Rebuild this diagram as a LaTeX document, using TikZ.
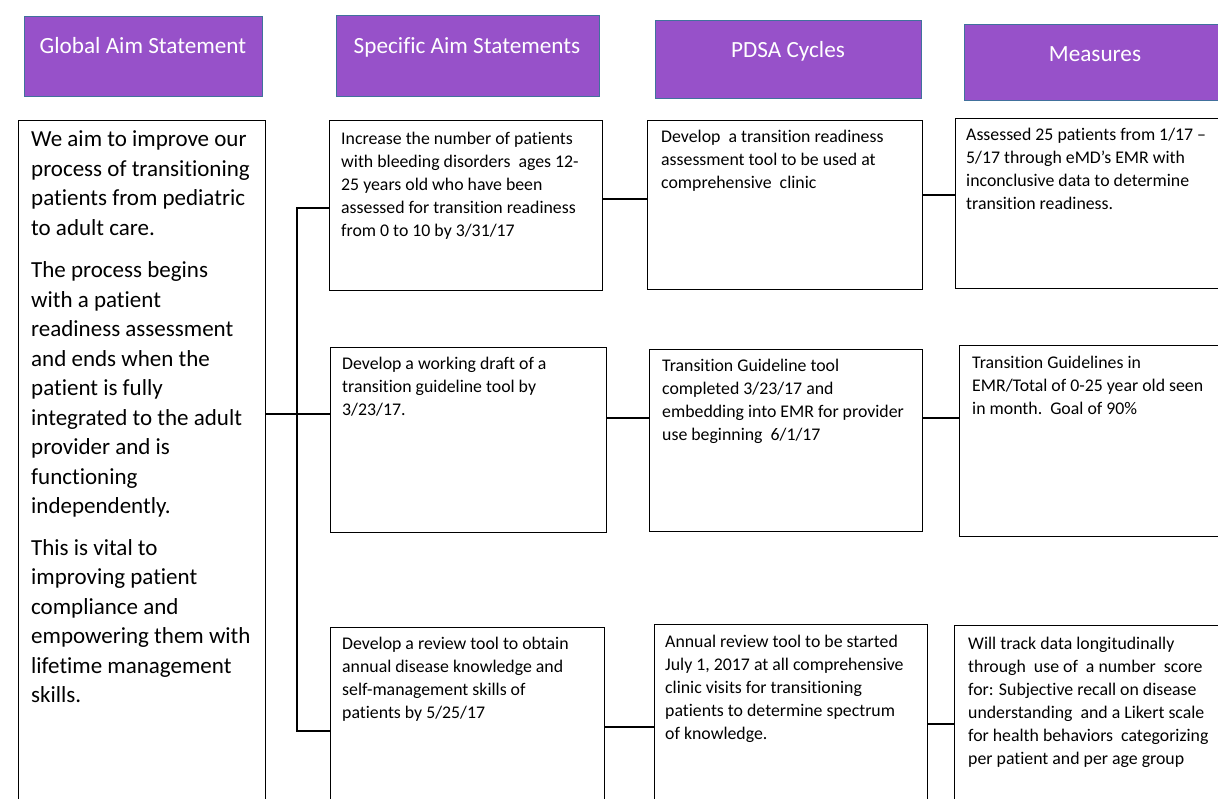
\documentclass[tikz,border=0pt]{standalone}
\usepackage{fontspec}
\setmainfont{Carlito}[Ligatures=CommonOff]
\definecolor{hdr}{RGB}{151,81,201}
\definecolor{hdrline}{RGB}{65,113,156}
\begin{document}
\begin{tikzpicture}[x=1pt,y=-1pt,
  hbox/.style={draw=hdrline, line width=1pt, fill=hdr, anchor=north west, inner sep=0pt},
  htext/.style={text=white, font=\fontsize{23.2}{28}\selectfont, anchor=base, inner sep=0pt},
  box/.style={draw=black, line width=1.4pt, anchor=north west, inner sep=0pt},
  txt/.style={anchor=north west, inner sep=0pt, align=left, font=\fontsize{17.8}{23}\selectfont},
  big/.style={anchor=north west, inner sep=0pt, align=left, font=\fontsize{23}{29.5}\selectfont},
  conn/.style={line width=2.8pt}]
\clip (0,0) rectangle (1218,799);
\fill[white] (0,0) rectangle (1218,799);

% headers
\node[hbox, minimum width=238pt, minimum height=80pt] (h1) at (24,16) {};
\node[hbox, minimum width=263pt, minimum height=81pt] (h2) at (336,15) {};
\node[hbox, minimum width=266pt, minimum height=78pt] (h3) at (655,20) {};
\node[hbox, minimum width=270pt, minimum height=76pt] (h4) at (964,24) {};
\node[htext] (h1t) at (143,54) {Global Aim Statement};
\node[htext] (h2t) at (467,54) {Specific Aim Statements};
\node[htext] (h3t) at (788,58) {PDSA Cycles};
\node[htext] (h4t) at (1095,62) {Measures};

% boxes
\node[box, minimum width=247pt, minimum height=700pt] (g) at (18,120) {};
\node[box, minimum width=273pt, minimum height=170pt] (sa1) at (329,120) {};
\node[box, minimum width=276pt, minimum height=185pt] (sa2) at (330,347) {};
\node[box, minimum width=274pt, minimum height=200pt] (sa3) at (330,627) {};
\node[box, minimum width=275pt, minimum height=169pt] (p1) at (647,120) {};
\node[box, minimum width=273pt, minimum height=182pt] (p2) at (649,349) {};
\node[box, minimum width=273pt, minimum height=200pt] (p3) at (654,624) {};
\node[box, minimum width=290pt, minimum height=170pt] (m1) at (955,118) {};
\node[box, minimum width=290pt, minimum height=191pt] (m2) at (959,345) {};
\node[box, minimum width=290pt, minimum height=200pt] (m3) at (954,625) {};

% texts
\node[big] (gt) at (31,126) {\strut We aim to improve our\\process of transitioning\\patients from pediatric\\to adult care.\\[13pt]
The process begins\\with a patient\\readiness assessment\\and ends when the\\patient is fully\\integrated to the adult\\provider and is\\functioning\\independently.\\[12pt]
This is vital to\\improving patient\\compliance and\\empowering them with\\lifetime management\\skills.};

\node[txt] (sa1t) at (341,128) {\strut Increase the number of patients\\with bleeding disorders\ \ ages 12-\\25 years old who have been\\assessed for transition readiness\\from 0 to 10 by 3/31/17};
\node[txt] (sa2t) at (342,353) {\strut Develop a working draft of a\\transition guideline tool by\\3/23/17.};
\node[txt] (sa3t) at (342,633) {\strut Develop a review tool to obtain\\annual disease knowledge and\\self-management skills of\\patients by 5/25/17};

\node[txt] (p1t) at (661,126) {\strut Develop\ \ a transition readiness\\assessment tool to be used at\\comprehensive\ \ clinic};
\node[txt] (p2t) at (662,355) {\strut Transition Guideline tool\\completed 3/23/17 and\\embedding into EMR for provider\\use beginning\ \ 6/1/17};
\node[txt] (p3t) at (665,631) {\strut Annual review tool to be started\\July 1, 2017 at all comprehensive\\clinic visits for transitioning\\patients to determine spectrum\\of knowledge.};

\node[txt] (m1t) at (966,124) {\strut Assessed 25 patients from 1/17 --\\5/17 through eMD’s EMR with\\inconclusive data to determine\\transition readiness.};
\node[txt] (m2t) at (972,352) {\strut Transition Guidelines in\\EMR/Total of 0-25 year old seen\\in month.\ \ Goal of 90\%};
\node[txt] (m3t) at (968,633) {\strut Will track data longitudinally\\through\ \ use of\ \ a number\ \ score\\for: Subjective recall on disease\\understanding\ \ and a Likert scale\\for health behaviors\ \ categorizing\\per patient and per age group};

% connector levels
\coordinate (y1) at (0,208);
\coordinate (y2) at (0,414);
\coordinate (y3) at (0,731);
\coordinate (tx) at (297,0);
\coordinate (r1) at (0,199);
\coordinate (s1) at (0,195);
\coordinate (r2) at (0,418);
\coordinate (r3) at (0,727);
\coordinate (s3) at (0,724);

\draw[conn] (g.east |- y2) -- (sa2.west |- y2);
\draw[conn] (sa1.west |- y1) -- (tx |- y1) -- (tx |- y3) -- (sa3.west |- y3);
\draw[conn] (sa1.east |- r1) -- (p1.west |- r1);
\draw[conn] (p1.east |- s1) -- (m1.west |- s1);
\draw[conn] (sa2.east |- r2) -- (p2.west |- r2);
\draw[conn] (p2.east |- r2) -- (m2.west |- r2);
\draw[conn] (sa3.east |- r3) -- (p3.west |- r3);
\draw[conn] (p3.east |- s3) -- (m3.west |- s3);
\end{tikzpicture}
\end{document}
